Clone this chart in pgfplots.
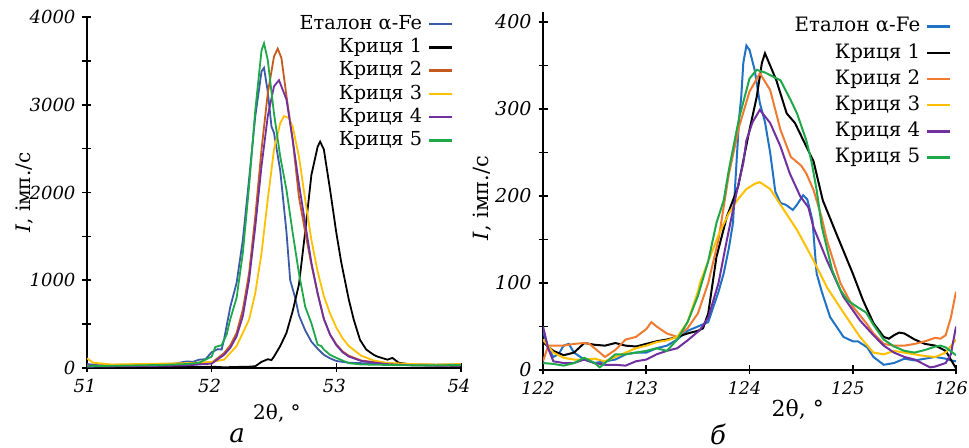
\documentclass[border=0pt]{standalone}
\usepackage{fontspec}
\setmainfont{DejaVu Serif}
\usepackage{pgfplots}
\pgfplotsset{compat=1.18}

\definecolor{cBlueA}{HTML}{3B5BA9}
\definecolor{cOrangeA}{HTML}{C65A1E}
\definecolor{cBlueB}{HTML}{1F72C4}
\definecolor{cOrangeB}{HTML}{F07A30}
\definecolor{cYellow}{HTML}{FFC000}
\definecolor{cPurple}{HTML}{7030A0}
\definecolor{cGreen}{HTML}{1EA84A}

\pgfplotsset{
  myax/.style={
    scale only axis,
    axis lines*=left,
    axis line style={line width=1pt, black},
    tick align=center,
    major tick length=4.5pt,
    minor tick length=4.5pt,
    every tick/.style={black, line width=0.8pt},
    /pgf/number format/assume math mode=true,
    /pgf/number format/set thousands separator={},
    legend plot pos=right,
    legend cell align=right,
    legend image code/.code={\draw[##1, line width=1.2pt] (0pt,0pt) -- (11.5pt,0pt);},
    clip=true,
  }
}

\begin{document}
\begin{tikzpicture}
\path[use as bounding box] (0,0) rectangle (484.5pt,224pt);

% ---------------- panel a ----------------
\begin{axis}[myax,
  at={(43.5pt,40pt)}, anchor=south west,
  width=187pt, height=175.5pt,
  xmin=51, xmax=54, ymin=0, ymax=4000,
  xtick={51,52,53,54}, ytick={0,1000,2000,3000,4000},
  minor y tick num=1,
  tick label style={font=\fontsize{9}{10}\selectfont\itshape},
  xticklabel style={xshift=-1pt},
  xlabel={2θ, °},
  xlabel style={at={(axis description cs:0.508,-0.13)}, anchor=center, font=\fontsize{10}{12}\selectfont},
  ylabel={\textit{I}, імп./с},
  ylabel style={at={(axis description cs:-0.168,0.5)}, anchor=center, font=\fontsize{10}{12}\selectfont},
  legend style={draw=none, fill=none, at={(axis description cs:0.997,1.023)}, anchor=north east,
    font=\fontsize{9.65}{11}\selectfont, row sep=0.95pt, column sep=2.5pt,
    nodes={inner sep=0.5pt, text height=0.75em, text depth=0.22em}},
  every axis plot/.append style={line width=0.9pt},
]
\addplot[cBlueA] coordinates {(51.0,45)(51.1,30)(51.2,35)(51.3,38)(51.4,35)(51.5,42)(51.6,45)(51.7,50)(51.8,75)(51.85,70)(51.9,95)(51.95,100)(52.0,180)(52.05,215)(52.08,210)(52.1,330)(52.15,700)(52.2,970)(52.25,1460)(52.3,2150)(52.35,2870)(52.4,3380)(52.42,3420)(52.45,3150)(52.48,2750)(52.5,2680)(52.55,2250)(52.6,1550)(52.63,1000)(52.67,800)(52.7,600)(52.75,430)(52.8,300)(52.85,220)(52.9,150)(52.95,110)(53.0,80)(53.1,60)(53.2,55)(53.4,45)(53.6,40)(53.8,38)(54.0,40)};
\addlegendentry{Еталон α-Fe}
\addplot[black] coordinates {(51.0,20)(51.3,15)(51.6,12)(51.9,10)(52.0,15)(52.1,8)(52.2,12)(52.3,15)(52.35,20)(52.4,70)(52.45,100)(52.48,90)(52.5,130)(52.55,250)(52.6,400)(52.65,650)(52.7,950)(52.75,1550)(52.8,2200)(52.85,2520)(52.87,2580)(52.9,2490)(52.95,2030)(53.0,1540)(53.04,1200)(53.1,780)(53.14,550)(53.19,320)(53.24,210)(53.3,150)(53.33,130)(53.41,95)(53.45,115)(53.5,60)(53.6,40)(53.8,30)(54.0,25)};
\addlegendentry{Криця 1}
\addplot[cOrangeA] coordinates {(51.0,25)(51.3,30)(51.6,35)(51.8,40)(52.0,60)(52.1,170)(52.15,260)(52.2,400)(52.25,665)(52.3,1080)(52.35,1730)(52.4,2490)(52.45,3130)(52.5,3550)(52.53,3640)(52.56,3530)(52.6,3100)(52.65,2600)(52.7,1950)(52.75,1550)(52.8,1180)(52.85,850)(52.9,560)(52.95,380)(53.0,270)(53.05,190)(53.1,140)(53.2,85)(53.4,50)(53.6,35)(53.8,30)(54.0,35)};
\addlegendentry{Криця 2}
\addplot[cYellow] coordinates {(51.0,110)(51.05,60)(51.2,40)(51.4,45)(51.6,50)(51.8,55)(52.0,70)(52.1,95)(52.2,250)(52.3,550)(52.35,855)(52.4,1310)(52.45,1920)(52.5,2490)(52.55,2790)(52.58,2870)(52.62,2850)(52.65,2750)(52.7,2410)(52.75,1920)(52.8,1460)(52.85,1100)(52.9,820)(52.95,620)(53.0,460)(53.05,340)(53.1,250)(53.2,140)(53.3,85)(53.4,60)(53.6,45)(53.8,40)(54.0,45)};
\addlegendentry{Криця 3}
\addplot[cPurple] coordinates {(51.0,15)(51.3,20)(51.6,25)(51.8,30)(52.0,50)(52.1,150)(52.15,230)(52.2,360)(52.25,590)(52.3,1000)(52.35,1610)(52.4,2300)(52.45,2870)(52.5,3210)(52.54,3280)(52.6,3060)(52.65,2600)(52.7,2100)(52.75,1650)(52.8,1200)(52.85,850)(52.9,560)(52.95,380)(53.0,260)(53.05,180)(53.1,130)(53.2,80)(53.4,45)(53.6,30)(53.8,25)(54.0,30)};
\addlegendentry{Криця 4}
\addplot[cGreen] coordinates {(51.0,20)(51.2,25)(51.4,30)(51.6,35)(51.8,45)(51.9,60)(52.0,130)(52.03,240)(52.08,260)(52.12,380)(52.15,560)(52.2,800)(52.25,1310)(52.3,2070)(52.35,2940)(52.4,3620)(52.42,3700)(52.45,3510)(52.5,2900)(52.55,2410)(52.6,2030)(52.65,1540)(52.7,1080)(52.75,700)(52.8,510)(52.85,265)(52.88,250)(52.9,210)(52.95,150)(53.0,115)(53.1,55)(53.2,40)(53.4,35)(53.6,30)(53.8,30)(54.0,35)};
\addlegendentry{Криця 5}
\end{axis}

% ---------------- panel b ----------------
\begin{axis}[myax,
  at={(271.5pt,39pt)}, anchor=south west,
  width=206.5pt, height=179.2pt,
  xmin=122, xmax=126, ymin=0, ymax=412,
  xtick={122,123,124,125,126}, ytick={0,100,200,300,400},
  minor y tick num=1,
  yticklabel style={font=\fontsize{9.5}{11}\selectfont\itshape},
  xticklabel style={font=\fontsize{8.7}{10}\selectfont\itshape, xshift=-2.5pt},
  xlabel={2θ, °},
  xlabel style={at={(axis description cs:0.617,-0.109)}, anchor=center, font=\fontsize{11}{13}\selectfont},
  ylabel={\textit{I}, імп./с},
  ylabel style={at={(axis description cs:-0.148,0.48)}, anchor=center, font=\fontsize{10.5}{12}\selectfont},
  legend style={draw=none, fill=none, at={(axis description cs:1.005,1.0)}, anchor=north east,
    font=\fontsize{9.9}{12}\selectfont, row sep=2.4pt, column sep=2.5pt,
    nodes={inner sep=0.5pt, text height=0.75em, text depth=0.22em}},
  every axis plot/.append style={line width=1pt},
]
\addplot[cBlueB] coordinates {(122.0,45)(122.05,25)(122.1,15)(122.15,18)(122.2,28)(122.25,30)(122.3,20)(122.4,12)(122.5,8)(122.6,10)(122.7,12)(122.8,18)(122.9,20)(123.0,20)(123.1,25)(123.2,28)(123.3,35)(123.4,45)(123.5,50)(123.6,55)(123.7,90)(123.75,111)(123.8,140)(123.84,169)(123.86,210)(123.9,290)(123.92,314)(123.94,353)(123.97,373)(124.0,368)(124.05,345)(124.1,307)(124.15,285)(124.2,250)(124.25,205)(124.3,192)(124.35,190)(124.42,184)(124.46,190)(124.52,201)(124.56,196)(124.61,172)(124.65,111)(124.7,90)(124.78,61)(124.91,38)(125.0,33)(125.05,33)(125.14,26)(125.2,15)(125.3,6)(125.4,8)(125.5,13)(125.6,11)(125.7,13)(125.8,15)(125.9,13)(125.95,11)(126.0,10)};
\addlegendentry{Еталон α-Fe}
\addplot[black] coordinates {(122.0,32)(122.1,22)(122.2,17)(122.3,20)(122.4,31)(122.5,29)(122.6,28)(122.7,31)(122.8,28)(122.9,27)(123.0,30)(123.1,33)(123.2,35)(123.3,38)(123.4,42)(123.5,45)(123.55,48)(123.6,65)(123.68,130)(123.78,176)(123.89,211)(124.0,276)(124.07,314)(124.12,353)(124.15,364)(124.2,350)(124.26,333)(124.36,295)(124.44,284)(124.55,257)(124.62,240)(124.71,195)(124.84,157)(125.0,111)(125.1,80)(125.2,54)(125.3,38)(125.35,36)(125.4,40)(125.45,43)(125.5,42)(125.6,35)(125.7,30)(125.8,28)(125.9,22)(125.95,12)(126.0,2)};
\addlegendentry{Криця 1}
\addplot[cOrangeB] coordinates {(122.0,10)(122.05,28)(122.2,28)(122.3,30)(122.4,31)(122.45,30)(122.6,15)(122.7,23)(122.8,35)(122.9,38)(123.0,47)(123.05,55)(123.1,50)(123.2,42)(123.3,38)(123.4,48)(123.5,65)(123.6,100)(123.7,150)(123.8,225)(123.9,280)(124.0,320)(124.1,341)(124.2,322)(124.3,276)(124.4,245)(124.5,235)(124.55,226)(124.62,207)(124.7,175)(124.75,149)(124.8,130)(124.88,100)(125.0,73)(125.13,54)(125.2,42)(125.3,30)(125.4,28)(125.5,28)(125.6,30)(125.7,33)(125.8,37)(125.85,36)(125.9,40)(125.95,60)(126.0,90)};
\addlegendentry{Криця 2}
\addplot[cYellow] coordinates {(122.0,35)(122.1,20)(122.2,14)(122.3,12)(122.4,12)(122.5,13)(122.6,10)(122.7,15)(122.8,20)(122.9,25)(123.0,28)(123.1,32)(123.2,34)(123.3,38)(123.4,55)(123.5,90)(123.52,100)(123.6,125)(123.71,158)(123.8,180)(123.88,195)(123.97,208)(124.05,214)(124.1,216)(124.2,208)(124.3,190)(124.46,161)(124.62,126)(124.75,95)(124.91,66)(125.07,38)(125.2,20)(125.3,18)(125.4,22)(125.5,20)(125.6,18)(125.7,16)(125.8,15)(125.9,20)(126.0,35)};
\addlegendentry{Криця 3}
\addplot[cPurple] coordinates {(122.0,50)(122.05,25)(122.1,10)(122.2,8)(122.3,8)(122.4,12)(122.5,8)(122.6,6)(122.7,6)(122.8,5)(122.9,10)(123.0,12)(123.1,18)(123.2,22)(123.3,25)(123.4,34)(123.52,46)(123.6,60)(123.65,80)(123.7,100)(123.78,149)(123.88,207)(123.94,238)(123.97,264)(124.03,285)(124.1,299)(124.2,284)(124.3,257)(124.39,226)(124.49,200)(124.57,187)(124.62,164)(124.75,126)(124.91,84)(125.07,57)(125.2,40)(125.3,28)(125.4,20)(125.5,15)(125.6,12)(125.7,6)(125.75,3)(125.8,4)(125.9,8)(125.95,18)(126.0,50)};
\addlegendentry{Криця 4}
\addplot[cGreen] coordinates {(122.0,8)(122.1,7)(122.2,5)(122.3,8)(122.4,14)(122.5,8)(122.55,3)(122.6,8)(122.7,18)(122.8,18)(122.9,20)(123.0,22)(123.1,25)(123.2,22)(123.3,35)(123.4,55)(123.5,85)(123.6,125)(123.68,169)(123.75,195)(123.8,230)(123.9,290)(124.0,335)(124.07,345)(124.15,342)(124.3,333)(124.4,310)(124.46,295)(124.55,264)(124.6,240)(124.65,207)(124.7,165)(124.8,115)(124.88,92)(124.95,80)(125.05,72)(125.13,66)(125.2,52)(125.3,35)(125.4,27)(125.5,22)(125.6,20)(125.7,23)(125.8,27)(125.85,28)(125.9,26)(126.0,17)};
\addlegendentry{Криця 5}
\end{axis}

\node[font=\fontsize{13}{15}\selectfont\itshape, inner sep=0pt] at (118.5pt,6pt) {а};
\node[font=\fontsize{13}{15}\selectfont\itshape, inner sep=0pt] at (359pt,7pt) {б};
\end{tikzpicture}
\end{document}
